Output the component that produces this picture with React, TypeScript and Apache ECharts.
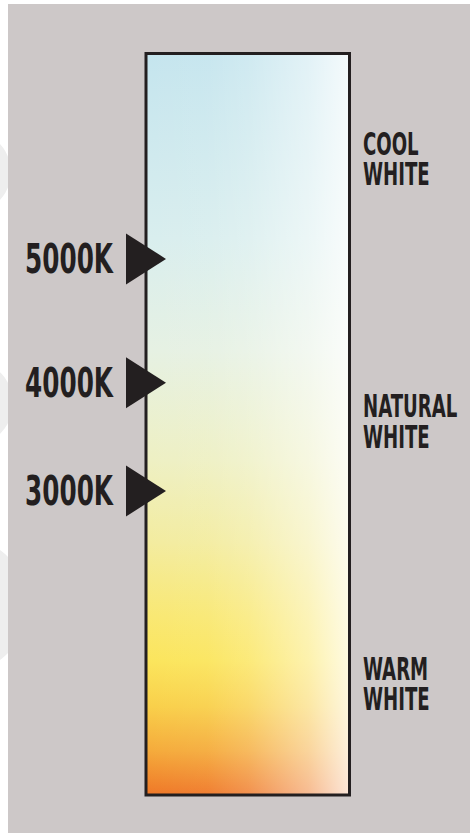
import React, { useEffect, useRef } from 'react';
import * as echarts from 'echarts';

// Colour-temperature markers (position = % down the scale, 0 = top of the bar)
const kelvinLabels = ['5000K', '4000K', '3000K'];
const kelvinPositions = [27.7, 44.4, 59.0];

// Zone names on the right-hand side
const zoneLabels = ['COOL\nWHITE', 'NATURAL\nWHITE', 'WARM\nWHITE'];
const zonePositions = [14.2, 49.6, 85.0];

// Extent of the scale
const scaleMin = 0;
const scaleMax = 100;

const INK = '#231f20';
const BG = '#cdc8c8';
const FONT = '"DejaVu Sans Condensed", "Liberation Sans Narrow", sans-serif';

// colour of the bar along its left edge (top -> bottom)
const leftStops: [number, string][] = [
  [0, '#c5e5ee'],
  [0.25, '#d9eeee'],
  [0.4, '#e6f1e3'],
  [0.55, '#eef0c3'],
  [0.66, '#f3ec9f'],
  [0.76, '#f9e872'],
  [0.82, '#fbe55c'],
  [0.88, '#f9d04a'],
  [0.94, '#f5ab3b'],
  [1, '#ef7727'],
];
// white fade toward the right edge
const fadeStops: [number, number][] = [
  [0, 0],
  [0.3, 0.05],
  [0.5, 0.18],
  [0.8, 0.5],
  [1, 0.82],
];

function textEl(text: string, x: number, y: number, size: number, scaleX: number, align: 'left' | 'right') {
  return {
    type: 'text',
    x,
    y,
    scaleX,
    style: {
      text,
      fill: INK,
      fontSize: size,
      fontWeight: 'bold',
      fontFamily: FONT,
      align,
      textAlign: align,
      verticalAlign: 'middle',
      textVerticalAlign: 'middle',
    },
  };
}

export default function App() {
  const ref = useRef<HTMLDivElement>(null);

  useEffect(() => {
    if (!ref.current) return;
    const chart = echarts.init(ref.current, null, { renderer: 'svg' });

    const option: any = {
      animation: false,
      tooltip: { show: false },
      graphic: [
        { type: 'circle', shape: { cx: -30, cy: 172, r: 41 }, style: { fill: '#eeeeee' }, silent: true },
        { type: 'circle', shape: { cx: -30, cy: 403, r: 43 }, style: { fill: '#eeeeee' }, silent: true },
        { type: 'circle', shape: { cx: -40, cy: 605, r: 68 }, style: { fill: '#eeeeee' }, silent: true },
        { type: 'rect', shape: { x: 8, y: 4, width: 470, height: 840 }, style: { fill: BG }, silent: true },
      ],
      grid: { left: 146, top: 53.5, right: 120.5, bottom: 38, containLabel: false },
      xAxis: { type: 'value', min: 0, max: 1, show: false },
      yAxis: { type: 'value', min: scaleMin, max: scaleMax, inverse: true, show: false },
      series: [
        {
          type: 'custom',
          silent: true,
          data: [[0, scaleMin]],
          renderItem: (_p: any, api: any) => {
            const a = api.coord([0, scaleMin]);
            const b = api.coord([1, scaleMax]);
            const shape = { x: a[0], y: a[1], width: b[0] - a[0], height: b[1] - a[1] };
            return {
              type: 'group',
              children: [
                {
                  type: 'rect',
                  shape,
                  style: {
                    fill: new echarts.graphic.LinearGradient(0, 0, 0, 1,
                      leftStops.map(([offset, color]) => ({ offset, color }))),
                  },
                },
                {
                  type: 'rect',
                  shape,
                  style: {
                    fill: new echarts.graphic.LinearGradient(0, 0, 1, 0,
                      fadeStops.map(([offset, al]) => ({ offset, color: `rgba(255,255,255,${al})` }))),
                  },
                },
                {
                  type: 'rect',
                  shape,
                  style: { fill: 'none', stroke: INK, lineWidth: 3 },
                },
              ],
            };
          },
        },
        {
          type: 'scatter',
          silent: true,
          symbol: 'triangle',
          symbolRotate: -90,
          symbolSize: [51, 40],
          itemStyle: { color: INK, opacity: 1 },
          data: kelvinPositions.map((p) => [0, p]),
        },
        {
          type: 'custom',
          silent: true,
          data: kelvinPositions.map((p) => [0, p]),
          renderItem: (params: any, api: any) => {
            const pt = api.coord([api.value(0), api.value(1)]);
            return textEl(kelvinLabels[params.dataIndex], pt[0] - 33, pt[1], 41, 0.67, 'right');
          },
        },
        {
          type: 'custom',
          silent: true,
          data: zonePositions.map((p) => [1, p]),
          renderItem: (params: any, api: any) => {
            const pt = api.coord([api.value(0), api.value(1)]);
            const lines = zoneLabels[params.dataIndex].split('\n');
            const lh = 30.5;
            return {
              type: 'group',
              children: lines.map((t, k) =>
                textEl(t, pt[0] + 13.5, pt[1] + (k - (lines.length - 1) / 2) * lh, 32, 0.63, 'left')
              ),
            };
          },
        },
      ],
    };

    chart.setOption(option);
    return () => chart.dispose();
  }, []);

  return (
    <div
      ref={ref}
      style={{ position: 'absolute', left: 0, top: 0, width: 470, height: 833, background: '#ffffff' }}
    />
  );
}
